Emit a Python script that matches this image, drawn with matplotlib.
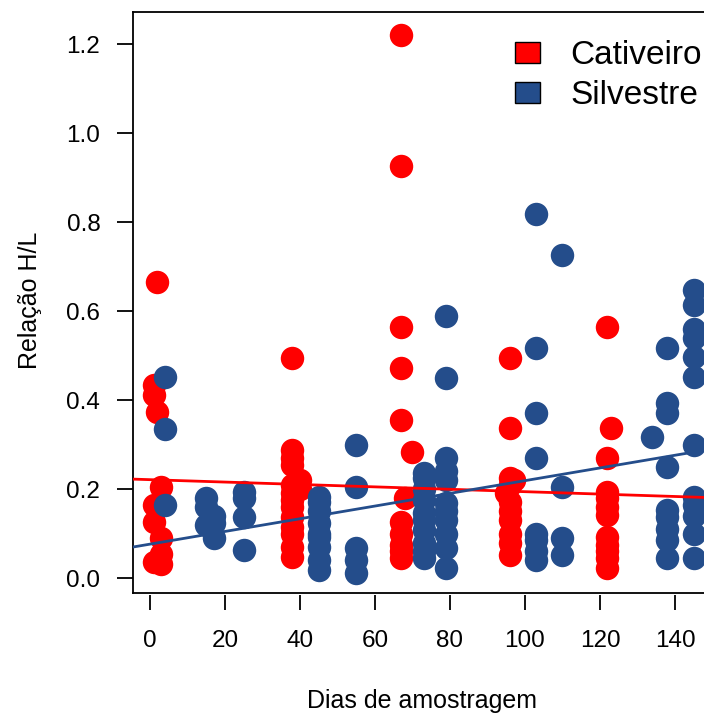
import numpy as np
import matplotlib
matplotlib.use('Agg')
import matplotlib.pyplot as plt
from matplotlib.patches import Patch

plt.rcParams['font.family'] = ['Liberation Sans', 'DejaVu Sans']

# Cativeiro (captive) samples: day, H/L ratio
cat_dias = [2, 1, 1, 2, 3, 1, 1, 3, 3, 1, 3,
            38, 38, 38, 38, 38, 38, 38, 38, 38, 38, 38, 38, 38, 40, 40,
            67, 67, 67, 67, 67, 68, 67, 67, 67, 67, 67, 70,
            96, 96, 96, 96, 95, 96, 96, 96, 96, 96, 96, 97,
            122, 122, 122, 122, 122, 122, 122, 122, 122, 122, 122, 123]
cat_hl = [0.665, 0.434, 0.411, 0.373, 0.205, 0.165, 0.125, 0.09, 0.055, 0.035, 0.032,
          0.494, 0.288, 0.27, 0.254, 0.19, 0.175, 0.16, 0.137, 0.115, 0.10, 0.07, 0.047, 0.21, 0.22, 0.20,
          1.22, 0.925, 0.564, 0.472, 0.355, 0.18, 0.126, 0.10, 0.074, 0.06, 0.045, 0.283,
          0.494, 0.337, 0.225, 0.21, 0.19, 0.171, 0.15, 0.13, 0.10, 0.079, 0.052, 0.22,
          0.564, 0.27, 0.193, 0.18, 0.16, 0.142, 0.092, 0.075, 0.06, 0.045, 0.022, 0.337]

# Silvestre (wild) samples
sil_dias = [4, 4, 4,
            15, 15, 15, 17, 17, 17,
            25, 25, 25, 25,
            45, 45, 45, 45, 45, 45, 45, 45, 45,
            55, 55, 55, 55, 55,
            73, 73, 73, 73, 73, 73, 73, 73, 73, 73,
            79, 79, 79, 79, 79, 79, 79, 79, 79, 79, 79,
            103, 103, 103, 103, 103, 103, 103, 103,
            110, 110, 110, 110,
            134,
            138, 138, 138, 138, 138, 138, 138, 138, 138,
            145, 145, 145, 145, 145, 145, 145, 145, 145, 145, 145, 145]
sil_hl = [0.452, 0.335, 0.164,
          0.18, 0.16, 0.12, 0.14, 0.124, 0.09,
          0.193, 0.18, 0.137, 0.063,
          0.182, 0.17, 0.15, 0.124, 0.10, 0.092, 0.07, 0.04, 0.018,
          0.299, 0.205, 0.067, 0.04, 0.011,
          0.236, 0.225, 0.20, 0.175, 0.146, 0.13, 0.108, 0.079, 0.06, 0.045,
          0.589, 0.449, 0.27, 0.24, 0.22, 0.168, 0.15, 0.13, 0.10, 0.067, 0.022,
          0.818, 0.517, 0.37, 0.27, 0.10, 0.085, 0.06, 0.04,
          0.725, 0.205, 0.09, 0.052,
          0.317,
          0.517, 0.393, 0.37, 0.25, 0.153, 0.138, 0.11, 0.085, 0.045,
          0.647, 0.613, 0.56, 0.54, 0.497, 0.452, 0.299, 0.182, 0.165, 0.14, 0.10, 0.045]

# fitted lines (intercept, slope)
cat_fit = (0.221, -0.00027)
sil_fit = (0.0761, 0.001427)

grupos = ['Cativeiro', 'Silvestre']
cores = ['#FF0000', '#244D8B']

W, H = 704, 716
fig = plt.figure(figsize=(W / 100, H / 100), dpi=100)
ax = fig.add_axes([133 / W, (H - 593) / H, (720 - 133) / W, (593 - 12) / H])

ax.scatter(cat_dias, cat_hl, s=285, c=cores[0], linewidths=0, zorder=2)
ax.scatter(sil_dias, sil_hl, s=285, c=cores[1], linewidths=0, zorder=3)

xl = (-4.53, 152.0)
xs = np.array(xl)
ax.plot(xs, cat_fit[0] + cat_fit[1] * xs, color=cores[0], lw=2, zorder=4)
xb = np.array([xl[0], max(sil_dias)])
ax.plot(xb, sil_fit[0] + sil_fit[1] * xb, color=cores[1], lw=2, zorder=4)

ax.set_xlim(xl)
ax.set_ylim(-0.0337, 1.272)

ax.set_xticks(np.arange(0, 141, 20))
ax.set_yticks(np.arange(0, 1.21, 0.2))
ax.set_yticklabels(['%.1f' % v for v in np.arange(0, 1.21, 0.2)])

lw = 1.3
for s in ['left', 'top', 'right']:
    ax.spines[s].set_linewidth(lw)
ax.spines['bottom'].set_position(('outward', 1.5))
ax.spines['bottom'].set_visible(False)
ax.plot([0, 1], [0, 0], transform=ax.transAxes, color='black', lw=lw, clip_on=False, zorder=5)

ax.tick_params(axis='both', direction='out', width=lw, labelsize=17.5, colors='black')
ax.tick_params(axis='y', length=11.5, pad=12)
ax.tick_params(axis='x', length=10.8, pad=14.5)

ax.set_xlabel('Dias de amostragem', fontsize=18)
ax.xaxis.set_label_coords((422 - 133) / 587, (593 - 689) / 581)
ax.set_ylabel('Relação H/L', fontsize=18)
ax.yaxis.set_label_coords((42 - 133) / 587, (593 - 300) / 581)

handles = [Patch(facecolor=c, edgecolor='black', linewidth=1) for c in cores]
fig.legend(handles, grupos, loc='upper left', bbox_to_anchor=(515 / W, 1 - 40 / H),
           bbox_transform=fig.transFigure, frameon=False, fontsize=24,
           borderpad=0, borderaxespad=0, handlelength=0.75, handleheight=0.6,
           handletextpad=0.9, labelspacing=0.28)

fig.savefig('out.png', dpi=100)
